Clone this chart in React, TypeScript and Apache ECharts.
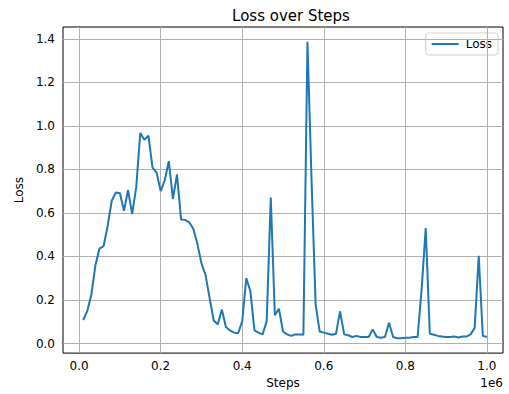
import React, { useEffect, useRef } from "react";
import * as echarts from "echarts";

const steps: number[] = [
  10000, 20000, 30000, 40000, 50000, 60000, 70000, 80000, 90000, 100000,
  110000, 120000, 130000, 140000, 150000, 160000, 170000, 180000, 190000, 200000,
  210000, 220000, 230000, 240000, 250000, 260000, 270000, 280000, 290000, 300000,
  310000, 320000, 330000, 340000, 350000, 360000, 370000, 380000, 390000, 400000,
  410000, 420000, 430000, 440000, 450000, 460000, 470000, 480000, 490000, 500000,
  510000, 520000, 530000, 540000, 550000, 560000, 570000, 580000, 590000, 600000,
  610000, 620000, 630000, 640000, 650000, 660000, 670000, 680000, 690000, 700000,
  710000, 720000, 730000, 740000, 750000, 760000, 770000, 780000, 790000, 800000,
  810000, 820000, 830000, 840000, 850000, 860000, 870000, 880000, 890000, 900000,
  910000, 920000, 930000, 940000, 950000, 960000, 970000, 980000, 990000, 1000000,
];

const loss: number[] = [
  0.108, 0.149, 0.224, 0.36, 0.436, 0.447, 0.54, 0.656, 0.694, 0.69,
  0.61, 0.705, 0.595, 0.717, 0.967, 0.936, 0.955, 0.808, 0.785, 0.7,
  0.75, 0.838, 0.664, 0.777, 0.57, 0.568, 0.557, 0.527, 0.459, 0.368,
  0.315, 0.209, 0.106, 0.088, 0.156, 0.076, 0.06, 0.05, 0.047, 0.103,
  0.3, 0.24, 0.06, 0.05, 0.042, 0.103, 0.671, 0.13, 0.16, 0.055,
  0.042, 0.035, 0.042, 0.042, 0.04, 1.386, 0.75, 0.179, 0.055, 0.05,
  0.045, 0.04, 0.045, 0.148, 0.042, 0.038, 0.03, 0.035, 0.03, 0.03,
  0.03, 0.065, 0.03, 0.027, 0.03, 0.095, 0.03, 0.024, 0.024, 0.027,
  0.027, 0.03, 0.03, 0.25, 0.53, 0.045, 0.04, 0.035, 0.032, 0.03,
  0.03, 0.032, 0.028, 0.032, 0.032, 0.042, 0.072, 0.403, 0.035, 0.03,
];

const xTicks: number[] = [0, 200000, 400000, 600000, 800000, 1000000];
const yTicks: number[] = [0, 0.2, 0.4, 0.6, 0.8, 1.0, 1.2, 1.4];

const FONT = "DejaVu Sans";

export default function App() {
  const ref = useRef<HTMLDivElement>(null);
  useEffect(() => {
    if (!ref.current) return;
    const chart = echarts.init(ref.current, undefined, { renderer: "svg" });
    const data = steps.map((s, i) => [s, loss[i]]);
    const gridColor = "#b0b0b0";
    chart.setOption({
      animation: false,
      backgroundColor: "#ffffff",
      textStyle: { fontFamily: FONT },
      title: {
        text: "Loss over Steps",
        left: 286,
        top: 3,
        textAlign: "center",
        textStyle: { fontFamily: FONT, fontSize: 15, fontWeight: "normal", color: "#000" },
      },
      legend: {
        right: 11,
        top: 33,
        orient: "vertical",
        backgroundColor: "rgba(255,255,255,0.8)",
        borderColor: "#d0d0d0",
        borderWidth: 1,
        borderRadius: 3,
        padding: [5, 6, 5, 6],
        itemWidth: 27,
        itemHeight: 2,
        itemGap: 6,
        textStyle: { fontFamily: FONT, fontSize: 12, color: "#000", padding: [0, 0, 0, 2], lineHeight: 12 },
        data: [{ name: "Loss", icon: "rect", itemStyle: { color: "#1f77b4" } }],
      },
      grid: {
        left: 63,
        top: 27,
        width: 440,
        height: 329,
        show: true,
        borderColor: "#000",
        borderWidth: 1,
        backgroundColor: "transparent",
      },
      xAxis: {
        type: "value",
        min: -39500,
        max: 1039500,
        name: "Steps",
        nameLocation: "middle",
        nameGap: 22,
        nameTextStyle: { fontFamily: FONT, fontSize: 12, color: "#000" },
        axisLine: { show: true, lineStyle: { color: "#000", width: 1 } },
        axisTick: { show: true, customValues: xTicks, length: 5, lineStyle: { color: "#000" } },
        axisLabel: {
          customValues: xTicks,
          margin: 7,
          fontFamily: FONT,
          fontSize: 12,
          color: "#000",
          formatter: (v: number) => (v / 1e6).toFixed(1),
        },
        splitLine: { show: false },
      },
      yAxis: {
        type: "value",
        min: -0.044,
        max: 1.454,
        name: "Loss",
        nameLocation: "middle",
        nameGap: 34,
        nameRotate: 90,
        nameTextStyle: { fontFamily: FONT, fontSize: 12, color: "#000" },
        axisLine: { show: true, lineStyle: { color: "#000", width: 1 } },
        axisTick: { show: true, customValues: yTicks, length: 5, lineStyle: { color: "#000" } },
        axisLabel: {
          customValues: yTicks,
          margin: 8,
          fontFamily: FONT,
          fontSize: 12,
          color: "#000",
          formatter: (v: number) => v.toFixed(1),
        },
        splitLine: { show: false },
      },
      graphic: [
        {
          type: "text",
          right: 6,
          top: 377,
          style: { text: "1e6", fontFamily: FONT, fontSize: 12, fill: "#000" },
        },
      ],
      series: [
        {
          name: "Grid",
          type: "line",
          data: [],
          silent: true,
          markLine: {
            silent: true,
            symbol: "none",
            label: { show: false },
            lineStyle: { color: gridColor, width: 1, type: "solid" },
            data: [
              ...xTicks.map((v) => ({ xAxis: v })),
              ...yTicks.map((v) => ({ yAxis: v })),
            ],
          },
        },
        {
          name: "Loss",
          type: "line",
          data,
          symbol: "none",
          showSymbol: false,
          lineStyle: { color: "#1f77b4", width: 2 },
          itemStyle: { color: "#1f77b4" },
          z: 5,
        },
      ],
    });
    return () => chart.dispose();
  }, []);
  return (
    <div
      ref={ref}
      style={{ position: "fixed", left: 0, top: 0, width: 509, height: 394 }}
    />
  );
}
